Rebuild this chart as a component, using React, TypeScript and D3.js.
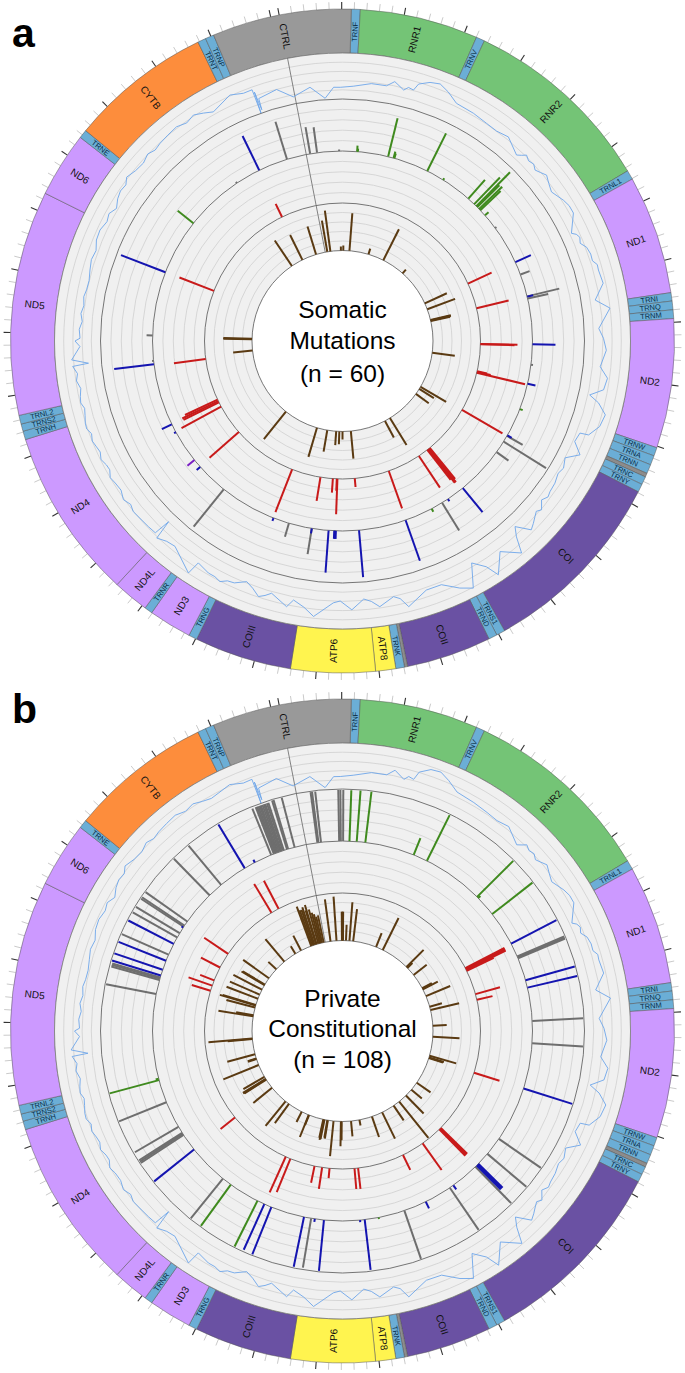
import React from "react";
import * as d3 from "d3";

const GENOME = 16569;
const ROT_DEG = -11;

const geneNames = ["TRNF","RNR1","TRNV","RNR2","TRNL1","ND1","TRNI","TRNQ","TRNM","ND2","TRNW","TRNA","TRNN","OL","TRNC","TRNY","COI","TRNS1","TRND","COII","NC","TRNK","ATP8","ATP6","COIII","TRNG","ND3","TRNR","ND4L","ND4","TRNH","TRNS2","TRNL2","ND5","ND6","TRNE","CYTB","TRNT","TRNP","CTRL"];
const geneStart = [577,648,1602,1671,3230,3305,4263,4330,4400,4470,5512,5580,5656,5730,5761,5826,5892,7446,7516,7586,8270,8295,8365,8527,9207,9991,10059,10405,10470,10760,12138,12207,12266,12337,14149,14674,14743,15888,15954,16024];
const geneEnd = [648,1602,1671,3230,3305,4263,4330,4400,4470,5512,5580,5656,5730,5761,5826,5892,7446,7516,7586,8270,8295,8365,8527,9207,9991,10059,10405,10470,10760,12138,12207,12266,12337,14149,14674,14743,15888,15954,16024,17145];
const geneType = ["t","r","t","r","t","n","t","t","t","n","t","t","t","g","t","t","c","t","t","c","g","t","a","a","c","t","n","t","n","n","t","t","t","n","n","t","y","t","t","d"];
const typeColor: Record<string,string> = { t:"#6baed6", r:"#74c476", n:"#cc99ff", g:"#8c8c8c", c:"#6a51a3", a:"#fff44f", y:"#fd8d3c", d:"#999999" };

const covPos = [170,318,414,483,617,801,957,1031,1137,1178,1233,1266,1367,1464,1565,1685,1882,2048,2177,2306,2490,2564,2734,2849,3015,3153,3314,3489,3562,3682,3935,4073,4225,4326,4520,4621,4741,4911,5017,5136,5215,5274,5371,5495,5610,5624,5725,5827,5923,6025,6204,6305,6425,6503,6600,6720,6816,6876,6941,7097,7240,7295,7401,7507,7622,7774,7935,8146,8271,8423,8574,8699,8814,8883,9067,9283,9338,9513,9629,9790,10033,10172,10310,10337,10595,10784,10811,10830,10922,11129,11460,11658,11861,12118,12381,12685,12703,12749,12878,12933,12961,13453,13656,14065,14332,14645,14857,15110,15336,15538,15722,15943,16072,16164,16170,16178,16190,16198,16399,16551];
const covA = [13.8,1.3,11.9,11.7,13,17,17,22.6,16.3,20,18.8,26,31,33,28.6,21.6,20.7,19,18.4,21,12.7,19.6,15.5,21,14.7,20,22,11,17,19.5,23.6,25,14,27.5,14.6,19,22,17,25.6,23.6,11,21.4,31,29,21.4,12.7,11,21.4,9.4,13,13.6,14.4,12.7,19,18.6,25,11.4,20,35.5,21,39,25.7,14.8,37.6,31.5,21,20.8,31.8,18.7,26.3,16.9,27,18,20,35,21.6,29.5,20,27,17,28,26,22.6,36.5,23,28.8,8.8,26,26.6,28,26,24.6,25.8,28,26,29,13,29.5,20.6,25.5,20.5,19,20.3,24.7,20,29,25,27,29,28.7,21,28.5,24.8,25,0,22,3,14.5,18,7];
const covB = [14.5,2,12.5,12.5,14,18,18,24,17,21,19.5,28,34,35,30,23,21.5,20,19,21.5,13,20,16,21.5,15,20.5,22.5,11.5,17.5,20,24,25.5,14.5,28,15,19.5,22.5,17.5,26,24,11.5,22,31.5,29.5,22,13,11.5,22,10,13.5,14,15,13,19.5,19,25.5,12,20.5,36,21.5,39.5,26,15.5,38,32,21.5,21,32,19,26.5,17,27,18,20,35,21.6,29.5,20,27,17,28,26,22.6,36.5,23,28.8,8.8,26,26.6,28,26,25,26,28.5,26.5,29.5,13.5,30,21,26,21,20,21,26,22,31,27,29,31,30,25,29,25,25.5,0,22,3,15,19,8];
const covExtraPos = [2530,2620,2680,2790,2930,3230,3520,3620,3760,3830,3880,6100,6360,6550,6660,8210,8500,9170,9570,9710,9900,9970,10100,10690,11200,11280,11370,11530,11600,11730,11800,11930,12000,12060,12190,12260,12320,12460,12540,12610,13050,13130,13210,13290,13380,13550,13760,13860,13960,14170,14250,14420,14500,14580,14750,14950,15030,15220,15440,15630];
const covExtraA = [16,17,18.5,18,17.5,22,15,15,21,20.5,24,11,16,16,22,22,20,27,24,21,23,24,26,24.5,25.5,28.5,25,27.5,24,27,24.5,27.5,25.5,28.5,26,24.5,27,24,27,25,21.5,19,21,19,20.5,18.5,22,20.5,24,22,24,24,26,25,26,28,25.5,28,26,25];
const covExtraB = [16.5,17.5,19,18.5,18,22.5,15.5,15.5,21.5,21,24.5,11.5,16.5,16.5,22.5,22,20,27,24,21,23,24,26,24.5,25.5,28.5,25.5,28,24.5,27.5,25,28,26,29,26.5,25,27.5,24.5,27.5,25.5,22,20,22,20,21.5,19.5,23,21.5,25,24,26,26,28,27,28,30,27.5,30,28,27];

const aBrownPos = [60,152,460,529,709,1275,1740,2421,3516,3705,4030,4046,4062,4994,6048,6121,6296,7336,7502,8547,8791,8883,8975,9237,9545,10572,12657,12985,13001,15511,15865,16293];
const aBrownVal = [32,41.5,4,5,38,6,35,5,24.5,30,21,21,20,23,30,17.4,16,32,19,28,8,13,14,22,30.6,35.6,19.6,29,29,31,28,29.5];
const aRedPos = [3516,4018,4704,4712,5230,5245,5261,6029,6985,7005,7025,7045,7244,7889,8556,8888,8900,8975,9214,9776,11032,11626,11718,11745,11775,12588,13913,15879];
const aRedVal = [26,33,37,34,10,14,49.6,46.7,40,43,43,38,38,39.6,8.6,35.4,12,14,24,45.7,39,45,39.5,40,36,32,37,14.5];
const aGreenPos = [709,720,1146,1224,1236,1726,1979,2416,2527,2568,2587,2623,2646,2743,5615,7502,14696];
const aGreenVal = [6,3,39.4,6.6,5,42,2,25,37,47.7,31,32,28,4.7,3,3.4,20];
const aGrayPos = [55,152,460,2969,3705,4023,4055,4980,6029,6121,6296,7336,9219,9545,10572,12657,13011,15520,16293];
const aGrayVal = [27,25.7,1.5,1.5,9.7,33,21,2,18,50,14.6,32.6,26,14,48,1.5,6,1.5,39.3];
const aBluePos = [3521,4027,4695,5247,6020,6982,7240,7898,8561,8883,8895,8905,8984,9219,9771,11023,11612,11736,12611,13909,15879];
const aBlueVal = [17,6,23,8,5,31,2.6,43,47,8,8,8,42.3,5,3,4.7,2,11,40,47.6,38];
const aPurplePos = [11147];
const aPurpleVal = [9];

const bBrownPos = [156,331,490,506,520,608,709,819,1510,1721,2577,2600,2615,2890,3351,3370,3387,3604,3931,4032,4497,4814,5380,5431,5450,6255,6508,6743,7005,7208,7594,7916,8294,8542,8814,8837,9053,9219,9235,9320,9338,9355,9790,9799,10024,10461,10586,11143,11437,11451,11465,11534,11916,12105,12120,12247,12700,12712,13361,13393,13623,13688,13705,13895,14024,14185,14337,14355,14572,14912,15234,15630,15819,16146,16178,16215,16247,16293,16311,16362,16403,16440,16477,16523];
const bBrownVal = [42.8,44.6,29,29,29,16,39,32.6,15,36,24.5,7,7,16.8,11,10,17,26.5,12.8,29.7,14,27,28,15.7,15,17,13.8,25.5,47,18,29.5,21.8,5.7,15.5,19,25,35.6,18.7,18,20,21,19,11,24,11.6,24,32,24.3,26,27,27,24.7,38.5,9,9,29,25,44.5,35.6,17.7,30,37.7,35,34,32.8,32.5,27,26,32,11,29.7,8.8,17,42.5,38,37.8,40,36,41.5,36,32,30,27,28];
const bRedPos = [3400,3420,3440,3460,3935,4046,5459,6700,6720,6740,7157,7594,8492,8561,9039,9182,9329,9813,9909,11147,13715,13817,13923,14194,14498,15649,15805];
const bRedVal = [44,44,44,30,25.4,16,26.7,37,37,37,32.7,16.5,21,20.6,9.7,21.7,17,36,39,18.5,19.6,25,15,21.4,28.8,33.6,31.6];
const bGreenPos = [603,704,824,1519,1721,2582,2605,2900,8285,10015,10448,12243,12262];
const bGreenVal = [51,51,51,18,51,51,3,51,1.5,51,50.8,51,3];
const bGrayPos = [156,172,207,460,483,515,3585,3599,3612,4510,4819,6241,6503,6747,7208,7916,9228,10586,11405,11423,11440,11539,11920,13449,13650,13669,13685,14024,14291,14360,14465,14484,14553,15032,15248,16060,16100,16115,16130,16146,16160,16178,16195,16210,16230,16247,16293,16310,16403];
const bGrayVal = [51,51,51,51,51,51,51,51,51,51,51,51,51,51,51,51,50,51,51,51,51,50.4,51,51,50,50,50,51,51,51,51,51,51,51,51,50,50,50,50,50,50,50,50,50,50,50,51,51,51];
const bBluePos = [3387,3935,4041,5459,6690,6706,6722,7148,7594,8482,8547,9049,9177,9329,9803,9909,11156,13715,13798,13932,14189,14452,15649,15810];
const bBlueVal = [51,51,51,51,34,34,34,5,7.3,50.6,2,51,3,50.7,50.8,50,51,51,51,51,51,2,51,3];

const trackRadii = [90.5, 138, 190, 242, 288];
const ringInner = 288;
const ringOuter = 332;
const tickMinor = d3.range(0, GENOME, 100);

const angle = d3.scaleLinear().domain([0, GENOME]).range([(ROT_DEG * Math.PI) / 180, ((ROT_DEG + 360) * Math.PI) / 180]);
const polar = (pos: number, r: number): [number, number] => {
  const t = angle(pos);
  return [r * Math.sin(t), -r * Math.cos(t)];
};

const mergeCoverage = (main: number[], extra: number[]) => {
  const pts = [
    ...covPos.map((p, i) => ({ p, v: main[i] })),
    ...covExtraPos.map((p, i) => ({ p, v: extra[i] })),
  ];
  return pts.sort((a, b) => d3.ascending(a.p, b.p));
};

type Series = { pos: number[]; val: number[]; color: string };
type PanelProps = { cx: number; cy: number; cov: { p: number; v: number }[]; brown: Series; red: Series; third: Series[]; text: string[]; baselines: number[]; tag: string; tagY: number };

function Bars({ s, track, trackMax }: { s: Series; track: number; trackMax: number }) {
  const rScale = d3.scaleLinear().domain([0, trackMax]).range([trackRadii[track], trackRadii[track + 1]]);
  return (
    <g stroke={s.color} strokeWidth={2}>
      {s.pos.map((p, i) => {
        const [x1, y1] = polar(p, rScale(0));
        const [x2, y2] = polar(p, rScale(s.val[i]));
        return <line key={i} x1={x1} y1={y1} x2={x2} y2={y2} />;
      })}
    </g>
  );
}

function Panel({ cx, cy, cov, brown, red, third, text, baselines, tag, tagY }: PanelProps) {
  const sector = d3.arc<any>().innerRadius(ringInner).outerRadius(ringOuter);
  const covR = d3.scaleLinear().domain([0, 46]).range([trackRadii[3], trackRadii[4]]);
  const covLine = d3.lineRadial<{ p: number; v: number }>()
    .angle((d) => angle(d.p))
    .radius((d) => covR(d.v))
    .curve(d3.curveLinearClosed);
  const grid: number[] = [];
  for (let t = 0; t < 4; t++) {
    const g = d3.scaleLinear().domain([0, 5]).range([trackRadii[t], trackRadii[t + 1]]);
    for (let k = 1; k < 5; k++) grid.push(g(k));
  }
  return (
    <g>
      <text x={12} y={tagY} fontFamily="Liberation Sans, Arial, sans-serif" fontWeight="bold" fontSize={41} fill="#000">{tag}</text>
      <g transform={`translate(${cx},${cy})`}>
        {tickMinor.map((p) => {
          const major = p % 500 === 0;
          const [x1, y1] = polar(p, ringOuter);
          const [x2, y2] = polar(p, ringOuter + 7);
          return <line key={p} x1={x1} y1={y1} x2={x2} y2={y2} stroke={major ? "#333" : "#c4c4c4"} strokeWidth={major ? 1.1 : 0.9} />;
        })}
        {geneNames.map((n, i) => (
          <path key={n} d={sector({ startAngle: angle(geneStart[i]), endAngle: angle(geneEnd[i]) }) || ""} fill={typeColor[geneType[i]]} stroke="#555" strokeWidth={0.5} />
        ))}
        <path d={d3.arc<any>()({ innerRadius: trackRadii[0], outerRadius: ringInner, startAngle: 0, endAngle: 2 * Math.PI }) || ""} fill="#f0f0f0" />
        {grid.map((r) => <circle key={r} r={r} fill="none" stroke="#cfcfcf" strokeWidth={0.8} />)}
        {trackRadii.map((r) => <circle key={r} r={r} fill="none" stroke={r === 288 ? "#777" : "#555"} strokeWidth={0.8} />)}
        <line x1={polar(0, trackRadii[0])[0]} y1={polar(0, trackRadii[0])[1]} x2={polar(0, ringInner)[0]} y2={polar(0, ringInner)[1]} stroke="#666" strokeWidth={0.8} />
        <path d={covLine(cov) || ""} fill="none" stroke="#6ea6ea" strokeWidth={0.9} strokeLinejoin="round" />
        <Bars s={brown} track={0} trackMax={48} />
        <Bars s={red} track={1} trackMax={52} />
        {third.map((s, i) => <Bars key={i} s={s} track={2} trackMax={52} />)}
        {geneNames.map((n, i) => {
          if (geneType[i] === "g") return null;
          const isT = geneType[i] === "t";
          const mid = (geneStart[i] + geneEnd[i]) / 2;
          const deg = ((angle(mid) * 180) / Math.PI + 360) % 360;
          const rot = deg < 180 ? deg - 90 : deg + 90;
          const [x, y] = polar(mid, (ringInner + ringOuter) / 2 - (isT ? 0.5 : 0));
          return (
            <text key={n} transform={`translate(${x},${y}) rotate(${rot})`} textAnchor="middle" dominantBaseline="central"
              fontFamily="Liberation Sans, Arial, sans-serif" fontSize={isT ? 7.5 : 10} fill={isT ? "#0b2f48" : "#111"}>{n}</text>
          );
        })}
      </g>
      {text.map((t, i) => (
        <text key={i} x={cx} y={baselines[i]} textAnchor="middle" fontFamily="Liberation Sans, Arial, sans-serif" fontSize={24.5} fill="#000">{t}</text>
      ))}
    </g>
  );
}

const BROWN = "#5a3a12", RED = "#c81a1a", BLUE = "#1414b0", GRAY = "#6e6e6e", GREEN = "#3f8a1e", PURPLE = "#7a1fc4";

export default function App() {
  return (
    <svg width={685} height={1373} style={{ position: "absolute", left: 0, top: 0, display: "block", background: "#fff" }}>
      <Panel cx={342.5} cy={341} cov={mergeCoverage(covA, covExtraA)} tag="a" tagY={47}
        brown={{ pos: aBrownPos, val: aBrownVal, color: BROWN }}
        red={{ pos: aRedPos, val: aRedVal, color: RED }}
        third={[
          { pos: aGreenPos, val: aGreenVal, color: GREEN },
          { pos: aGrayPos, val: aGrayVal, color: GRAY },
          { pos: aBluePos, val: aBlueVal, color: BLUE },
          { pos: aPurplePos, val: aPurpleVal, color: PURPLE },
        ]}
        text={["Somatic", "Mutations", "(n = 60)"]} baselines={[318, 349, 382]} />
      <Panel cx={342.5} cy={1031} cov={mergeCoverage(covB, covExtraB)} tag="b" tagY={723}
        brown={{ pos: bBrownPos, val: bBrownVal, color: BROWN }}
        red={{ pos: bRedPos, val: bRedVal, color: RED }}
        third={[
          { pos: bGreenPos, val: bGreenVal, color: GREEN },
          { pos: bGrayPos, val: bGrayVal, color: GRAY },
          { pos: bBluePos, val: bBlueVal, color: BLUE },
        ]}
        text={["Private", "Constitutional", "(n = 108)"]} baselines={[1007, 1037, 1068]} />
    </svg>
  );
}
